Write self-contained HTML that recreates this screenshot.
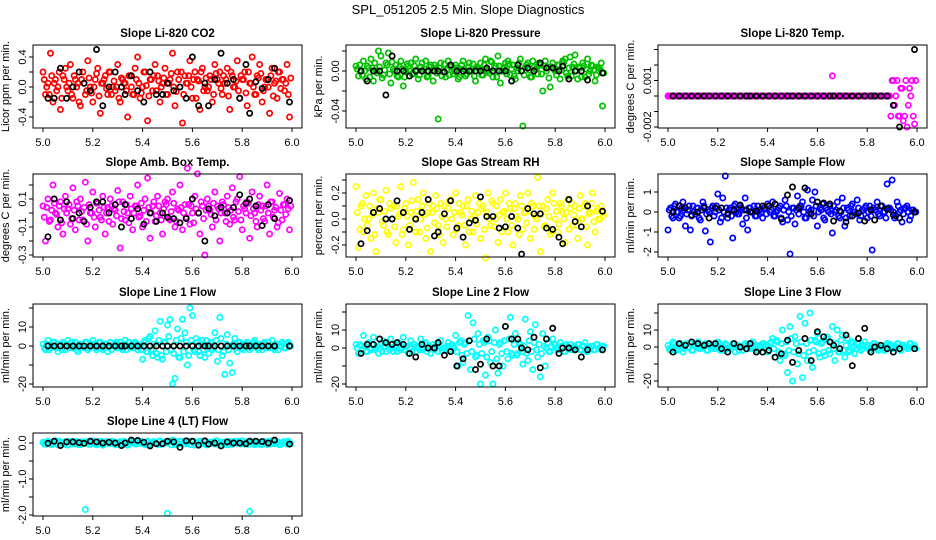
<!DOCTYPE html>
<html><head><meta charset="utf-8"><style>
body{margin:0;background:#fff}
svg{display:block;font-family:"Liberation Sans",sans-serif}
</style></head><body>
<svg id="chart" width="936" height="540" viewBox="0 0 936 540" xmlns="http://www.w3.org/2000/svg">
<rect width="936" height="540" fill="#fff"/>
<text x="468" y="14" font-size="13" text-anchor="middle">SPL_051205  2.5 Min. Slope Diagnostics</text>
</svg>
<script>
const times = [5.00,5.01,5.02,5.03,5.04,5.05,5.06,5.07,5.08,5.09,5.10,5.11,5.12,5.13,5.14,5.15,5.16,5.17,5.18,5.19,5.20,5.21,5.22,5.23,5.24,5.25,5.26,5.27,5.28,5.29,5.30,5.31,5.32,5.33,5.34,5.35,5.36,5.37,5.38,5.39,5.40,5.41,5.42,5.43,5.44,5.45,5.46,5.47,5.48,5.49,5.50,5.51,5.52,5.53,5.54,5.55,5.56,5.57,5.58,5.59,5.60,5.61,5.62,5.63,5.64,5.65,5.66,5.67,5.68,5.69,5.70,5.71,5.72,5.73,5.74,5.75,5.76,5.77,5.78,5.79,5.80,5.81,5.82,5.83,5.84,5.85,5.86,5.87,5.88,5.89,5.90,5.91,5.92,5.93,5.94,5.95,5.96,5.97,5.98,5.99];
const times2 = [5.005,5.015,5.025,5.035,5.045,5.055,5.065,5.075,5.085,5.095,5.105,5.115,5.125,5.135,5.145,5.155,5.165,5.175,5.185,5.195,5.205,5.215,5.225,5.235,5.245,5.255,5.265,5.275,5.285,5.295,5.305,5.315,5.325,5.335,5.345,5.355,5.365,5.375,5.385,5.395,5.405,5.415,5.425,5.435,5.445,5.455,5.465,5.475,5.485,5.495,5.505,5.515,5.525,5.535,5.545,5.555,5.565,5.575,5.585,5.595,5.605,5.615,5.625,5.635,5.645,5.655,5.665,5.675,5.685,5.695,5.705,5.715,5.725,5.735,5.745,5.755,5.765,5.775,5.785,5.795,5.805,5.815,5.825,5.835,5.845,5.855,5.865,5.875,5.885,5.895,5.905,5.915,5.925,5.935,5.945,5.955,5.965,5.975,5.985,5.995];
const blackTimes = [5.02,5.045,5.07,5.095,5.12,5.145,5.165,5.19,5.215,5.24,5.265,5.29,5.315,5.33,5.355,5.38,5.405,5.43,5.455,5.48,5.5,5.525,5.55,5.575,5.6,5.625,5.65,5.665,5.69,5.715,5.74,5.765,5.79,5.815,5.83,5.855,5.88,5.905,5.93,5.99];

const co2 = [0.2,-0.1,0.05,0.45,-0.2,0.1,0.0,-0.3,0.15,0.25,-0.05,0.3,-0.15,0.1,0.05,-0.25,0.2,-0.1,0.35,0.0,-0.2,0.1,0.25,-0.35,0.05,0.15,-0.1,0.2,0.0,-0.05,0.3,-0.2,0.1,0.05,-0.4,0.15,-0.1,0.25,0.4,-0.15,0.0,0.2,-0.45,0.1,-0.05,0.3,0.15,-0.2,0.05,0.25,-0.1,0.1,0.45,-0.25,0.2,0.0,-0.48,0.15,0.05,0.35,-0.15,0.2,0.1,-0.3,0.25,0.0,-0.05,0.15,-0.2,0.3,0.1,0.2,-0.1,0.05,0.25,-0.3,0.15,0.0,0.35,-0.15,0.1,0.2,-0.25,0.05,0.4,-0.1,0.15,0.3,-0.2,0.0,0.1,-0.35,0.25,0.05,-0.15,0.2,0.1,-0.05,0.3,-0.4];
const co2B = [0.1,0.0,-0.1,0.15,0.05,-0.05,0.2,-0.15,0.1,0.0,0.05,-0.1,0.15,0.0,-0.2,0.1,0.05,-0.05,0.12,-0.08,0.0,0.18,-0.12,0.05,0.1,-0.02,0.2,-0.1,0.08,0.0,-0.15,0.12,0.05,-0.05,0.15,0.0,-0.1,0.1,0.05,-0.08,0.2,0.02,-0.12,0.1,0.15,-0.05,0.08,0.0,0.12,-0.1,0.05,0.18,0.0,-0.06,0.1,0.2,-0.1,0.05,0.15,0.0,0.1,-0.15,0.08,0.2,-0.05,0.12,0.0,0.1,-0.1,0.18,0.05,-0.02,0.15,0.1,-0.12,0.2,0.0,0.08,-0.05,0.15,0.1,-0.08,0.2,0.05,0.0,-0.1,0.12,0.18,-0.05,0.1,0.0,0.15,-0.12,0.08,0.2,-0.02,0.1,0.05,-0.1,0.12];
const co2Black = [-0.15,-0.15,0.25,-0.15,0.0,0.2,0.05,-0.05,0.5,-0.25,0.0,0.2,0.0,-0.1,0.15,-0.05,-0.2,0.2,-0.1,-0.1,0.05,-0.05,0.0,-0.15,0.4,-0.25,0.05,-0.25,0.1,0.45,0.05,0.1,-0.15,0.3,-0.35,0.07,-0.02,0.1,0.25,-0.2];
const pres = [0.005,-0.005,0.0,0.01,-0.008,0.003,0.012,-0.01,0.0,0.02,0.015,-0.004,0.008,0.018,-0.012,0.002,0.006,-0.006,0.01,-0.015,0.0,0.005,0.008,-0.003,0.012,-0.008,0.004,0.0,0.01,-0.005,0.006,-0.01,0.003,-0.048,0.008,0.0,-0.006,0.01,0.004,-0.003,0.006,-0.008,0.002,0.01,-0.005,0.004,0.0,0.007,-0.01,0.003,0.008,-0.004,0.012,0.0,0.01,-0.006,0.005,0.015,-0.012,0.002,0.008,0.01,-0.004,0.006,-0.008,0.0,0.012,-0.055,0.004,0.008,-0.006,0.01,0.002,-0.003,0.006,-0.02,0.01,0.004,-0.016,0.008,0.0,0.006,-0.008,0.01,0.012,-0.005,0.014,0.004,0.016,-0.008,0.003,0.008,-0.006,0.012,0.0,0.005,-0.01,0.004,0.002,-0.035];
const presB = [0.002,0.006,-0.004,0.0,0.005,-0.006,0.003,0.008,-0.002,0.004,-0.007,0.001,0.006,-0.003,0.009,0.0,-0.005,0.004,0.002,-0.006,0.007,0.0,-0.003,0.005,0.001,-0.004,0.008,0.002,-0.006,0.004,0.0,0.006,-0.002,0.003,-0.005,0.007,0.001,-0.004,0.005,0.0,0.003,-0.006,0.006,0.002,-0.003,0.008,0.0,-0.005,0.004,0.002,-0.004,0.006,0.001,-0.002,0.009,0.003,-0.006,0.005,0.0,0.004,-0.003,0.007,0.002,-0.005,0.003,0.008,0.0,-0.004,0.006,0.001,-0.006,0.004,0.002,0.008,-0.003,0.005,0.0,-0.007,0.004,0.002,-0.004,0.006,0.001,0.009,-0.002,0.003,-0.005,0.007,0.0,0.004,-0.006,0.005,0.002,-0.003,0.006,0.001,-0.004,0.003,0.008,-0.002];
const presBlack = [0.0,-0.01,0.0,0.0,-0.024,0.015,0.0,0.0,-0.005,0.0,0.0,0.0,0.0,0.0,-0.001,0.006,0.0,0.0,0.0,0.0,0.0,0.003,0.0,0.0,0.0,-0.01,0.006,0.0,0.003,0.0,0.008,0.003,0.003,0.0,0.005,-0.008,0.0,0.0,-0.009,-0.002];
const temp = [0,0,0,0,0,0,0,0,0,0,0,0,0,0,0,0,0,0,0,0,0,0,0,0,0,0,0,0,0,0,0,0,0,0,0,0,0,0,0,0,0,0,0,0,0,0,0,0,0,0,0,0,0,0,0,0,0,0,0,0,0,0,0,0,0,0,0.0013,0,0,0,0,0,0,0,0,0,0,0,0,0,0,0,0,0,0,0,0,0,0,0,0.001,-0.0006,0.001,-0.0013,0.0005,-0.0013,-0.002,0.0005,0.001,-0.0018];
const tempB = [0,0,0,0,0,0,0,0,0,0,0,0,0,0,0,0,0,0,0,0,0,0,0,0,0,0,0,0,0,0,0,0,0,0,0,0,0,0,0,0,0,0,0,0,0,0,0,0,0,0,0,0,0,0,0,0,0,0,0,0,0,0,0,0,0,0,0,0,0,0,0,0,0,0,0,0,0,0,0,0,0,0,0,0,0,0,0,0,0,-0.0013,0.001,0,-0.0013,0.0005,-0.0016,0.001,-0.0006,0,-0.0013,0.001];
const tempBlack = [0,0,0,0,0,0,0,0,0,0,0,0,0,0,0,0,0,0,0,0,0,0,0,0,0,0,0,0,0,0,0,0,0,0,0,0,0,-0.0006,-0.002,0.003];
const amb = [0.05,-0.2,0.1,-0.05,0.2,0.0,-0.1,0.08,-0.15,0.12,0.03,-0.08,0.18,-0.12,0.05,0.1,-0.05,0.22,-0.2,0.0,0.15,-0.1,0.07,-0.03,0.12,-0.15,0.04,0.1,-0.08,0.02,0.16,-0.25,0.08,-0.05,0.0,0.12,-0.12,0.05,0.2,-0.02,-0.1,0.1,0.25,-0.18,0.05,-0.06,0.12,0.0,-0.15,0.08,0.1,-0.05,0.15,-0.1,0.03,0.2,-0.12,0.06,0.32,-0.08,0.0,0.12,0.28,-0.15,0.05,-0.3,0.1,0.02,-0.1,0.15,0.05,-0.2,0.08,0.0,0.12,-0.08,0.18,-0.05,0.1,0.26,-0.12,0.03,0.08,-0.18,0.15,0.0,-0.1,0.12,0.05,-0.06,0.2,-0.15,0.08,0.02,-0.1,0.14,-0.05,0.06,0.1,-0.12];
const ambB = [-0.03,0.04,-0.06,0.02,0.07,-0.01,0.05,-0.07,0.03,0.0,0.06,-0.04,0.02,0.08,-0.05,0.01,0.04,-0.08,0.06,0.0,-0.03,0.07,0.02,-0.05,0.04,0.0,-0.06,0.05,0.03,-0.02,0.08,-0.04,0.01,0.06,-0.07,0.03,0.0,0.05,-0.03,0.07,0.02,-0.06,0.04,0.0,0.08,-0.02,0.05,-0.05,0.03,0.06,-0.04,0.01,0.07,-0.06,0.02,0.04,0.0,-0.03,0.06,0.05,-0.07,0.03,0.0,0.08,-0.04,0.02,0.05,-0.01,0.07,-0.05,0.03,0.0,0.06,-0.06,0.04,0.02,-0.03,0.08,0.01,-0.05,0.05,0.0,0.07,-0.02,0.03,-0.06,0.06,0.02,-0.04,0.05,0.0,0.08,-0.03,0.04,-0.07,0.02,0.06,-0.01,0.03,0.05];
const ambBlack = [-0.17,0.1,-0.05,0.08,-0.04,0.0,-0.06,0.04,0.08,0.08,0.0,0.06,-0.1,0.06,-0.04,0.03,-0.08,0.0,-0.06,0.0,-0.03,-0.04,-0.07,-0.04,0.1,0.0,-0.2,0.03,-0.02,0.04,0.0,0.04,0.13,0.07,0.1,0.05,-0.09,0.06,-0.04,0.09];
const rh = [0.25,-0.22,0.1,-0.1,0.18,0.0,-0.15,0.2,-0.25,0.05,0.15,-0.05,0.22,-0.12,0.08,0.1,-0.18,0.02,0.25,-0.08,0.12,-0.2,0.05,0.28,-0.1,0.15,0.0,0.2,-0.15,0.05,-0.25,0.1,0.18,-0.05,0.12,-0.18,0.0,0.08,0.15,-0.12,0.2,-0.05,0.05,0.1,-0.2,0.15,0.0,-0.1,0.18,0.05,-0.15,0.1,-0.3,0.2,-0.05,0.12,0.0,-0.18,0.15,0.05,0.2,-0.1,0.08,-0.2,0.12,0.0,0.18,-0.08,0.05,0.2,-0.15,0.1,0.02,0.32,-0.25,0.1,-0.05,0.15,-0.12,0.2,0.0,-0.1,0.12,0.05,-0.18,0.15,0.08,-0.05,0.1,-0.15,0.18,0.0,0.12,-0.2,0.05,0.2,-0.1,0.08,0.0,0.05];
const rhB = [0.05,-0.08,0.12,0.0,-0.05,0.1,0.03,-0.12,0.08,0.15,-0.02,0.06,-0.1,0.12,0.0,-0.06,0.1,0.04,-0.12,0.08,0.02,-0.05,0.14,0.0,0.06,-0.1,0.1,0.03,-0.07,0.12,0.05,-0.03,0.08,-0.12,0.02,0.1,-0.06,0.14,0.0,0.05,-0.08,0.12,0.03,-0.05,0.1,-0.1,0.06,0.02,-0.04,0.12,0.08,-0.08,0.05,0.0,0.14,-0.06,0.1,0.03,-0.1,0.06,0.0,0.12,-0.05,0.08,0.02,-0.12,0.1,0.05,-0.03,0.06,0.12,-0.08,0.0,0.1,0.04,-0.06,0.08,0.02,-0.1,0.12,0.06,-0.04,0.1,0.0,0.05,-0.08,0.12,0.03,-0.05,0.08,0.0,0.1,-0.06,0.04,0.12,-0.02,0.06,0.0,0.1,0.03];
const rhBlack = [-0.19,-0.09,0.05,0.08,0.0,0.0,0.14,0.05,-0.08,0.0,0.05,0.15,-0.13,-0.1,0.04,0.14,-0.07,-0.14,-0.03,-0.01,0.17,0.02,0.02,-0.07,-0.06,0.02,-0.07,-0.27,0.08,0.04,0.04,-0.07,-0.08,-0.14,-0.19,0.15,-0.02,-0.06,0.1,0.06];
const samp = [-0.9,0.2,-0.3,0.4,0.0,-0.2,0.5,-0.7,0.1,-0.9,0.3,-0.1,0.2,-0.4,0.5,-0.95,0.1,-1.5,0.3,0.0,0.9,-0.5,0.7,1.8,-0.3,0.2,-1.3,0.4,-0.1,0.3,-0.6,0.7,-0.9,0.2,0.0,-0.2,0.3,0.1,-0.3,0.2,0.4,0.0,0.5,-0.2,0.1,0.3,-0.5,0.6,-0.4,-2.1,0.2,-0.6,0.8,0.3,0.5,-0.3,1.1,0.0,0.6,1.0,-0.7,0.2,0.4,-0.4,0.1,0.3,-1.05,0.0,0.5,-0.3,0.7,-0.7,0.2,-0.2,0.4,0.0,0.6,-0.4,0.1,0.2,-0.3,0.3,-1.9,0.1,0.5,-0.2,0.3,0.0,1.4,0.2,1.6,-0.3,0.5,0.0,-0.5,0.2,0.3,-0.4,0.1,0.0];
const sampB = [0.1,-0.2,0.3,0.0,-0.3,0.2,0.1,-0.1,0.3,-0.2,0.0,0.2,-0.3,0.1,0.3,-0.1,0.0,0.2,-0.2,0.3,0.1,-0.3,0.0,0.2,0.1,-0.2,0.3,0.0,-0.1,0.2,0.1,-0.3,0.2,0.0,0.3,-0.2,0.1,0.0,0.2,-0.1,0.3,0.1,-0.2,0.0,0.2,-0.3,0.1,0.3,0.0,-0.2,0.2,0.1,-0.1,0.3,0.0,-0.3,0.2,0.1,-0.2,0.3,0.0,0.1,-0.3,0.2,0.0,-0.1,0.3,0.1,-0.2,0.0,0.2,-0.3,0.1,0.3,0.0,-0.1,0.2,-0.2,0.1,0.3,0.0,-0.2,0.2,0.1,-0.1,0.3,0.0,-0.3,0.2,0.1,0.0,-0.2,0.3,0.1,-0.1,0.2,0.0,-0.2,0.1,0.0];
const sampBlack = [0.0,0.3,0.2,-0.15,0.0,0.2,-0.3,0.2,0.2,-0.1,0.1,0.35,0.1,0.0,0.05,0.3,0.3,0.4,-0.35,0.85,1.25,0.2,1.2,-0.1,0.5,0.45,0.4,-0.45,0.05,-0.5,-0.2,-0.05,-0.45,0.1,-0.4,0.3,0.15,-0.15,-0.3,0.0];
const line1 = [1,-2,3,-1,2,0,-3,1,2,-2,3,0,-1,2,-3,1,0,2,-2,1,3,-1,0,2,-2,1,-3,2,0,1,-1,2,-2,3,0,-1,1,2,-2,0,-7,3,-3,5,-5,8,-6,13,-7,2,11,14,-20,-17,9,-6,14,7,-10,20,16,-3,2,-5,3,-6,0,1,-2,7,-8,15,-5,-15,6,-9,-14,4,-3,2,-1,1,2,-2,0,3,-1,1,-2,2,0,-1,3,-2,1,0,2,-1,1,0,-1];
const line1B = [-1,1,-2,0,2,-1,1,-2,0,1,-1,2,0,-2,1,0,-1,2,-1,0,1,-2,2,0,-1,1,0,-2,1,2,0,-1,1,-2,2,0,-1,1,0,-2,2,-3,4,-2,1,-4,3,-5,2,-3,5,-2,-4,3,-6,4,-3,2,-5,3,-2,4,-3,1,-2,3,-4,2,-1,3,-2,4,-3,1,-2,0,1,-1,2,0,-2,1,0,-1,2,1,-2,0,1,-1,2,0,-1,1,-2,0,1,-1,2,0];
const line1Black = [0,0,0,0,0,0,0,0,0,0,0,0,0,0,0,0,0,0,0,0,0,0,0,0,0,0,0,0,0,0,0,0,0,0,0,0,0,0,0,0];
const line2 = [2,-3,1,7,-2,3,-1,6,0,-3,2,4,-2,1,5,-2,0,3,-1,6,1,-3,4,2,-2,0,5,-1,3,0,-3,2,1,-2,4,0,-1,3,-2,1,7,-10,4,-8,3,18,-12,14,-5,8,-20,4,-15,6,-8,-20,10,-14,3,-10,12,-6,17,-4,8,-3,2,-9,16,-7,9,-12,13,-5,-16,8,-10,3,-2,5,2,-1,3,0,-2,1,2,-1,0,2,-1,1,3,-2,0,1,-1,2,0,1];
const line2B = [0,2,-1,1,-2,0,2,-1,1,0,-2,1,2,-1,0,1,-2,2,0,-1,1,0,-2,2,1,-1,0,2,-2,1,0,-1,2,1,-2,0,1,-1,2,0,-2,3,-4,2,-3,4,-2,5,-4,2,-3,3,-5,4,-2,3,-6,2,-3,4,-2,5,-3,2,-4,3,-2,1,-3,4,-2,3,-1,2,-3,1,0,-2,1,2,0,-1,1,-2,2,0,-1,1,0,2,-1,1,-2,0,1,-1,2,0,-1,1];
const line2Black = [-3,2,2,5,3,2,3,2,-3,-5,2,0,0,3,-4,-2,-10,-6,4,-12,-9,5,-10,-10,12,5,5,0,-1,6,-11,5,11,-3,0,0,-1,-5,-1,-1];
const line3 = [1,-2,3,0,-1,2,-3,1,0,2,-2,1,3,-1,0,2,-2,1,0,-1,3,-2,1,2,-1,0,2,-3,1,0,-2,2,1,-1,3,0,-2,1,2,-1,-3,2,5,-6,3,-8,10,-5,-15,12,-20,6,-10,18,-18,14,-8,20,-12,4,8,-6,3,-5,6,-4,12,-8,10,-3,7,-6,5,-2,3,-4,2,0,-1,3,1,-2,0,2,-1,1,0,-2,2,1,-1,0,2,-1,1,0,-1,2,0,1];
const line3B = [-1,0,2,-2,1,0,-1,2,0,-2,1,2,-1,0,1,-2,2,0,-1,1,2,0,-2,1,0,-1,2,1,-2,0,1,-1,0,2,-1,1,-2,0,2,1,-2,3,-1,4,-3,2,-4,3,-2,5,-3,2,-4,3,-5,2,-3,4,-2,3,-4,2,-3,5,-2,3,-1,2,-3,4,-2,1,-3,2,0,-1,2,-2,1,0,1,-1,2,0,-2,1,0,-1,2,1,-1,0,2,-2,1,0,-1,2,0,-1];
const line3Black = [-3,2,1,3,2,1,2,2,-1,-3,2,0,-1,2,-3,-3,-2,-6,-4,4,-9,-2,5,-8,9,6,3,1,-1,7,-11,5,11,-3,0,1,-1,-3,-1,-1];
const line4 = [0.02,-0.04,0.05,-0.02,0.0,0.06,-0.05,0.03,-0.01,0.04,-0.06,0.02,0.05,-0.03,0.01,-0.05,0.04,-1.85,0.02,-0.04,0.06,0.0,-0.03,0.05,-0.06,0.01,0.03,-0.02,0.05,-0.05,0.0,0.04,-0.04,0.02,-0.06,0.06,0.01,-0.03,0.04,-0.01,0.03,-0.05,0.05,-0.08,0.02,0.0,-0.04,0.06,-0.02,0.03,-1.95,0.04,0.08,-0.05,0.02,0.05,-0.03,0.0,0.06,-0.04,0.03,-0.06,0.01,0.05,-0.02,0.04,-0.05,0.02,0.0,-0.03,0.06,-0.01,0.03,-0.05,0.04,0.02,-0.04,0.05,0.0,-0.02,0.06,-0.03,0.03,-1.9,0.01,-0.05,0.04,0.02,-0.03,0.05,-0.04,0.0,0.06,-0.02,0.03,-0.05,0.01,0.04,-0.03,0.02];
const line4B = [-0.03,0.03,0.0,-0.05,0.04,-0.02,0.05,0.0,-0.04,0.02,0.05,-0.03,0.0,0.04,-0.05,0.02,-0.01,0.04,-0.04,0.03,0.0,-0.05,0.05,0.01,-0.03,0.04,-0.02,0.05,0.0,-0.04,0.03,-0.01,0.05,-0.05,0.02,0.0,0.04,-0.03,0.01,0.05,-0.02,0.03,-0.05,0.0,0.04,-0.01,0.05,-0.04,0.02,0.0,0.03,-0.05,0.01,0.04,-0.03,0.05,0.0,-0.02,0.03,-0.04,0.05,0.01,-0.03,0.02,0.04,-0.05,0.0,0.03,-0.02,0.05,-0.04,0.01,0.03,0.0,-0.05,0.04,-0.01,0.02,0.05,-0.03,0.0,0.04,-0.04,0.02,0.05,-0.02,0.01,-0.05,0.03,0.0,0.04,-0.03,0.05,-0.01,0.02,-0.04,0.03,0.0,0.05,-0.02];
const line4Black = [-0.01,0.05,-0.07,0.03,0.03,0.01,-0.01,0.05,0.03,0.0,0.02,0.0,-0.07,0.0,0.08,0.07,0.02,-0.08,-0.02,-0.02,0.05,0.03,-0.12,0.06,0.05,-0.06,0.06,-0.03,0.0,-0.08,0.03,0.0,0.0,-0.02,0.05,0.05,0.04,0.0,0.08,-0.03];

const xTickVals = [5.0,5.2,5.4,5.6,5.8,6.0];
const xTickLabels = ["5.0","5.2","5.4","5.6","5.8","6.0"];

const colX = [43,356,668];
const rowTop = [45,174,304,433];
const boxH = 83;
const xUnit = 249;

const panels = [
 {name:"co2",title:"Slope Li-820 CO2",yt:"Licor ppm per min.",col:0,row:0,color:"#ff0000",vals:co2,vals2:co2B,blk:co2Black,v0:0,p0:87,v1:0.4,p1:57,ticks:[-0.4,-0.2,0,0.2,0.4],labs:{"-0.4":"-0.4","0":"0.0","0.4":"0.4"}},
 {name:"pressure",title:"Slope Li-820 Pressure",yt:"kPa per min.",col:1,row:0,color:"#00c000",vals:pres,vals2:presB,blk:presBlack,v0:0,p0:71,v1:-0.04,p1:111,ticks:[-0.04,-0.02,0,0.02],labs:{"-0.04":"-0.04","0":"0.00"}},
 {name:"temp",title:"Slope Li-820 Temp.",yt:"degrees C per min.",col:2,row:0,color:"#ff00ff",vals:temp,vals2:tempB,blk:tempBlack,v0:0,p0:96,v1:0.001,p1:80.5,ticks:[-0.002,-0.001,0,0.001,0.002,0.003],labs:{"-0.002":"-0.002","0.001":"0.001"}},
 {name:"amb-temp",title:"Slope Amb. Box Temp.",yt:"degrees C per min.",col:0,row:1,color:"#ff00ff",vals:amb,vals2:ambB,blk:ambBlack,v0:0.1,p0:199,v1:-0.1,p1:227,ticks:[-0.3,-0.2,-0.1,0,0.1,0.2],labs:{"-0.3":"-0.3","-0.1":"-0.1","0.1":"0.1"}},
 {name:"rh",title:"Slope Gas Stream RH",yt:"percent per min.",col:1,row:1,color:"#ffff00",vals:rh,vals2:rhB,blk:rhBlack,v0:0,p0:219,v1:0.2,p1:193,ticks:[-0.2,-0.1,0,0.1,0.2,0.3],labs:{"-0.2":"-0.2","0":"0.0","0.2":"0.2"}},
 {name:"sample-flow",title:"Slope Sample Flow",yt:"ml/min per min.",col:2,row:1,color:"#0000ff",vals:samp,vals2:sampB,blk:sampBlack,v0:0,p0:212,v1:1,p1:192,ticks:[-2,-1,0,1],labs:{"-2":"-2","-1":"-1","0":"0","1":"1"}},
 {name:"line1",title:"Slope Line 1 Flow",yt:"ml/min per min.",col:0,row:2,color:"#00ffff",vals:line1,vals2:line1B,blk:line1Black,v0:0,p0:346,v1:10,p1:327,ticks:[-20,-10,0,10,20],labs:{"-20":"-20","0":"0","10":"10"}},
 {name:"line2",title:"Slope Line 2 Flow",yt:"ml/min per min.",col:1,row:2,color:"#00ffff",vals:line2,vals2:line2B,blk:line2Black,v0:0,p0:348,v1:10,p1:330,ticks:[-20,-10,0,10,20],labs:{"-20":"-20","0":"0","10":"10"}},
 {name:"line3",title:"Slope Line 3 Flow",yt:"ml/min per min.",col:2,row:2,color:"#00ffff",vals:line3,vals2:line3B,blk:line3Black,v0:0,p0:347,v1:10,p1:330,ticks:[-20,-10,0,10,20],labs:{"-20":"-20","0":"0","10":"10"}},
 {name:"line4",title:"Slope Line 4 (LT) Flow",yt:"ml/min per min.",col:0,row:3,color:"#00ffff",vals:line4,vals2:line4B,blk:line4Black,v0:0,p0:443,v1:-1,p1:479,ticks:[-2,-1.5,-1,-0.5,0],labs:{"-2":"-2.0","-1":"-1.0","0":"0.0"}}
];

const NS = "http://www.w3.org/2000/svg";
const svg = document.getElementById("chart");
function mk(tag, attrs, parent){
  const e = document.createElementNS(NS, tag);
  for (const k in attrs) e.setAttribute(k, attrs[k]);
  parent.appendChild(e);
  return e;
}

panels.forEach(p => {
  const x0 = colX[p.col];
  const top = rowTop[p.row];
  const bottom = top + boxH;
  const left = x0 - 10, right = x0 + xUnit + 10;
  const xs = t => x0 + (t - 5.0) * xUnit;
  const ys = v => p.p0 + (v - p.v0) * (p.p1 - p.p0) / (p.v1 - p.v0);

  const g = mk("g", {}, svg);
  
  

  const title = mk("text", {x:(left+right)/2, y:top-8, "font-size":11.5, "font-weight":"bold", "text-anchor":"middle"}, g);
  title.textContent = p.title;
  
  

  const yt = mk("text", {x:0, y:0, "font-size":11, "text-anchor":"middle", transform:`translate(${left-24},${(top+bottom)/2}) rotate(-90)`}, g);
  yt.textContent = p.yt;
  
  

  const pts = mk("g", {fill:"none", stroke:p.color, "stroke-width":1.7}, g);
  
  
  const n = Math.min(times.length, p.vals.length);
  for (let i = 0; i < n; i++) {
    const c = mk("circle", {cx:xs(times[i]), cy:ys(p.vals[i]), r:2.6}, pts);
    
    
  }
  const n2 = Math.min(times2.length, p.vals2.length);
  for (let i = 0; i < n2; i++) {
    const c = mk("circle", {cx:xs(times2[i]), cy:ys(p.vals2[i]), r:2.6}, pts);
    
    
  }
  const bpts = mk("g", {fill:"none", stroke:"#000", "stroke-width":1.7}, g);
  
  
  const m = Math.min(blackTimes.length, p.blk.length);
  for (let i = 0; i < m; i++) {
    const c = mk("circle", {cx:xs(blackTimes[i]), cy:ys(p.blk[i]), r:2.6}, bpts);
    
    
  }

  const box = mk("rect", {x:left, y:top, width:right-left, height:boxH, fill:"none", stroke:"#000", "stroke-width":1}, g);
  
  

  xTickVals.forEach((t, i) => {
    const tx = xs(t);
    mk("line", {x1:tx, y1:bottom, x2:tx, y2:bottom+4, stroke:"#000"}, g);
    const lab = mk("text", {x:tx, y:bottom+18, "font-size":11, "text-anchor":"middle"}, g);
    lab.textContent = xTickLabels[i];
    
    
  });
  p.ticks.forEach(v => {
    const ty = ys(v);
    if (ty < top - 0.5 || ty > bottom + 0.5) return;
    mk("line", {x1:left-4, y1:ty, x2:left, y2:ty, stroke:"#000"}, g);
    const key = String(v);
    if (p.labs[key] !== undefined) {
      const lab = mk("text", {x:0, y:0, "font-size":11, "text-anchor":"middle", transform:`translate(${left-7},${ty}) rotate(-90)`}, g);
      lab.textContent = p.labs[key];
      
      
    }
  });
});
</script>
</body></html>
